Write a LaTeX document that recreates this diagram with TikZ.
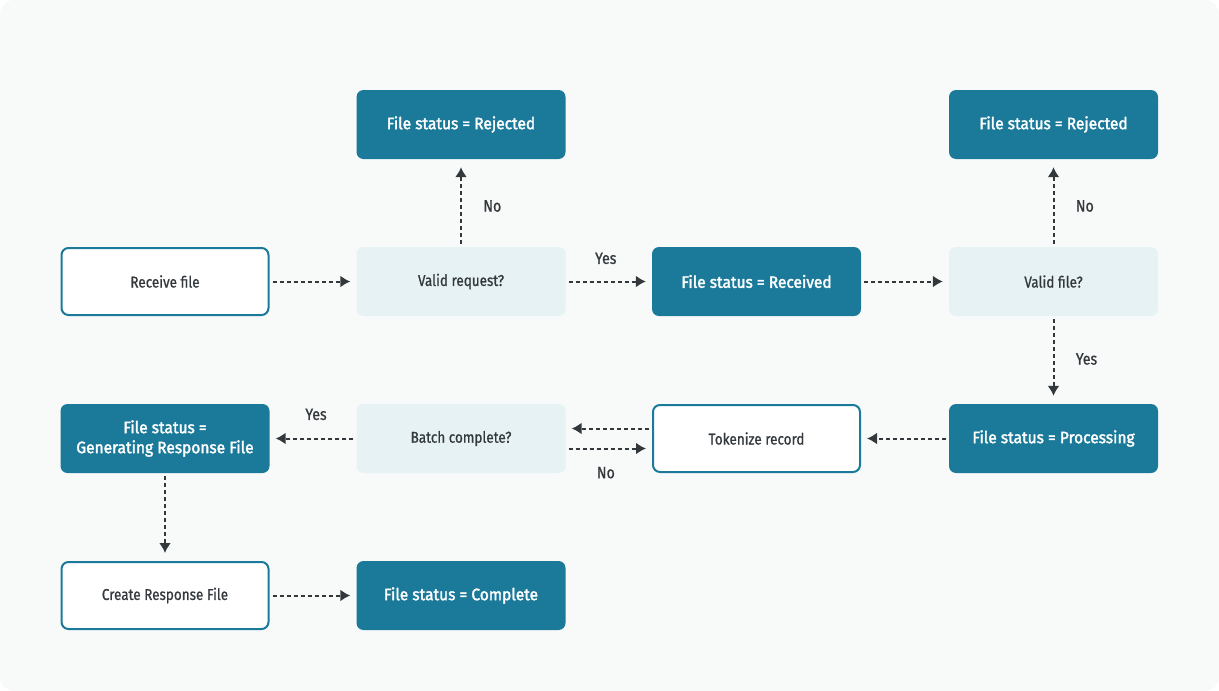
\documentclass[tikz,border=0pt]{standalone}
\usepackage{fontspec}
\setmainfont{Fira Sans}
\newfontfamily\strongfont[FakeStretch=0.94, FakeBold=2]{Fira Sans}
\newfontfamily\plainfont[FakeStretch=0.86, FakeBold=0.8]{Fira Sans}
\usetikzlibrary{arrows.meta}
\definecolor{tealbox}{HTML}{1B7A99}
\definecolor{paleblue}{HTML}{E7F2F5}
\definecolor{inkgray}{HTML}{33383D}
\definecolor{canvas}{HTML}{F8FAFA}
\tikzset{>={Latex[length=10pt,width=12pt]}}
\tikzset{
	status/.style={fill=tealbox, rounded corners=7pt, minimum width=209pt, minimum height=69pt,
		text=white, align=center, font=\strongfont\fontsize{16.5}{20}\selectfont},
	task/.style={draw=tealbox, line width=2pt, fill=white, rounded corners=7pt, minimum width=207pt,
		minimum height=67pt, text=inkgray, font=\plainfont\fontsize{15.7}{17}\selectfont},
	query/.style={fill=paleblue, rounded corners=7pt, minimum width=209pt, minimum height=69pt,
		text=inkgray, font=\plainfont\fontsize{15.7}{17}\selectfont},
	flow/.style={->, inkgray, line width=2pt, dash pattern=on 4pt off 3pt, shorten >=6pt, shorten <=3pt},
	lbl/.style={inkgray, font=\plainfont\fontsize{16.5}{18}\selectfont}
}

\begin{document}
\begin{tikzpicture}[x=1pt,y=-1pt]
	\fill[canvas, rounded corners=14pt] (0,0) rectangle (1219,691);
	\useasboundingbox (0,0) rectangle (1219,691);
	% top row
	\node[status] (rej1) at (461,124.5) {File status = Rejected};
	\node[status] (rej2) at (1053.5,124.5) {File status = Rejected};
	% second row
	\node[task] (recv) at (165,281.5) {Receive file};
	\node[query] (vreq) at (461,281.5) {Valid request?};
	\node[status] (recd) at (756.5,281.5) {File status = Received};
	\node[query] (vfile) at (1053.5,281.5) {Valid file?};
	% third row
	\node[status] (gen) at (165,438.5) {File status =\\Generating Response File};
	\node[query] (batch) at (461,438.5) {Batch complete?};
	\node[task] (tok) at (756.5,438.5) {Tokenize record};
	\node[status] (proc) at (1053.5,438.5) {File status = Processing};
	% bottom row
	\node[task] (resp) at (165,595.5) {Create Response File};
	\node[status] (done) at (461,595.5) {File status = Complete};

	\draw[flow] (recv) -- (vreq);
	\draw[flow] (vreq) -- node[lbl, above=13pt, xshift=-3pt] (yes1) {Yes} (recd);
	\draw[flow, shorten >=8pt] (vreq) -- node[lbl, right=18pt, yshift=-3pt] (no1) {No} (rej1);
	\draw[flow] (recd) -- (vfile);
	\draw[flow, shorten >=8pt] (vfile) -- node[lbl, right=18pt, yshift=-3pt] (no2) {No} (rej2);
	\draw[flow, shorten >=8pt] (vfile) -- node[lbl, right=18pt, yshift=1pt] (yes2) {Yes} (proc);
	\draw[flow] (proc) -- (tok);
	\draw[flow] ([yshift=10pt]tok.west) -- ([yshift=10pt]batch.east);
	\draw[flow] ([yshift=-10pt]batch.east) -- node[lbl, below=14pt, xshift=-3pt] (no3) {No} ([yshift=-10pt]tok.west);
	\draw[flow] (batch) -- node[lbl, above=14pt, xshift=3pt] (yes3) {Yes} (gen);
	\draw[flow, shorten >=8pt] (gen) -- (resp);
	\draw[flow] (resp) -- (done);
\end{tikzpicture}
\end{document}
